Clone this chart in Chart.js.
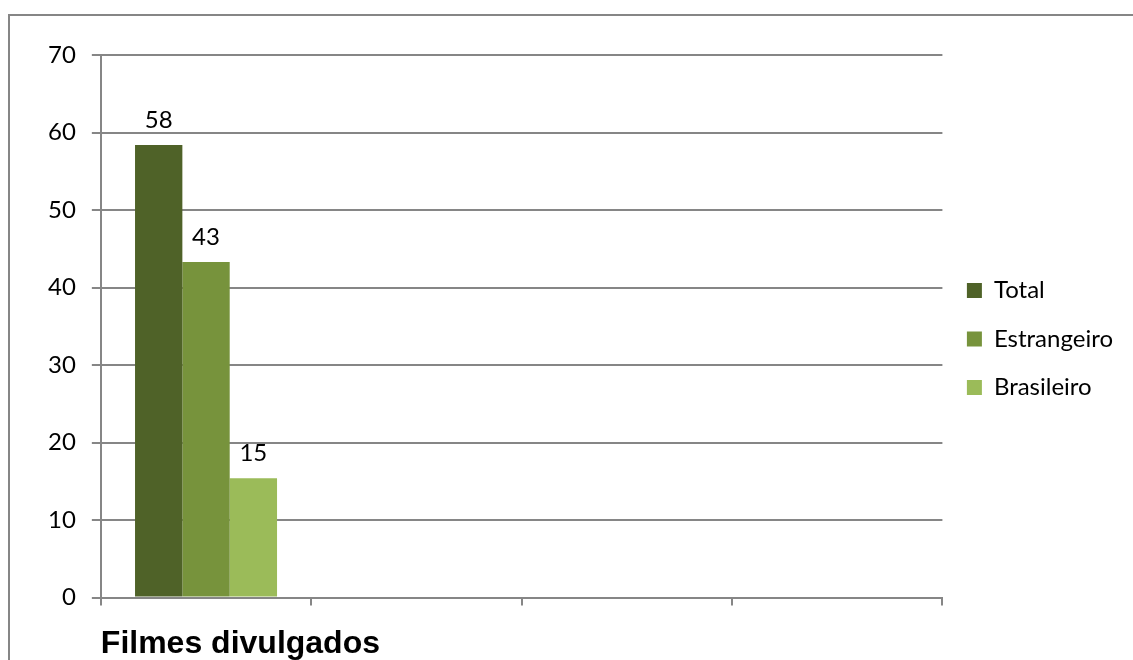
<!DOCTYPE html>
<html>
<head>
<meta charset="utf-8">
<script src="https://cdn.jsdelivr.net/npm/chart.js@4/dist/chart.umd.min.js"></script>
<style>
  html, body { margin: 0; padding: 0; background: #fff; overflow: hidden; }
  #frame {
    position: absolute; left: 8px; top: 14px;
    width: 1140px; height: 680px;
    border: 2px solid #868686;
  }
  #wrap { position: absolute; left: 0; top: 0; width: 1113px; height: 647px; }
</style>
</head>
<body>
<div id="frame"><div id="wrap"><canvas id="chart"></canvas></div></div>
<script>
// values
const categories = ["", "", "", ""];
const seriesNames = ["Total", "Estrangeiro", "Brasileiro"];
const totalValues = [58.4, null, null, null];
const estrangeiroValues = [43.3, null, null, null];
const brasileiroValues = [15.4, null, null, null];
const seriesColors = ["#4F6228", "#77933C", "#9BBB59"];
const yMin = 0, yMax = 70, yStep = 10;
const axisTitle = "Filmes divulgados";

const gray = "#868686";
const font = "Lato, 'Open Sans', sans-serif";

// number above each bar
const valueLabels = {
  id: "valueLabels",
  afterDatasetsDraw(chart) {
    const ctx = chart.ctx;
    ctx.save();
    ctx.font = "24px " + font;
    ctx.fillStyle = "#000";
    ctx.textAlign = "center";
    ctx.textBaseline = "bottom";
    chart.data.datasets.forEach((ds, i) => {
      chart.getDatasetMeta(i).data.forEach((bar, j) => {
        const v = ds.data[j];
        if (v == null) return;
        ctx.fillText(Math.round(v), bar.x, bar.y - 13);
      });
    });
    ctx.restore();
  }
};

const values = [totalValues, estrangeiroValues, brasileiroValues];

new Chart(document.getElementById("chart"), {
  type: "bar",
  data: {
    labels: categories,
    datasets: seriesNames.map((name, i) => ({
      label: name,
      data: values[i],
      backgroundColor: seriesColors[i],
      categoryPercentage: 0.675,
      barPercentage: 1,
    })),
  },
  options: {
    responsive: true,
    maintainAspectRatio: false,
    animation: false,
    layout: { padding: { left: 22, top: 39, right: 0, bottom: 0 } },
    plugins: {
      legend: {
        position: "right",
        align: "start",
        title: { display: true, text: "", font: { size: 10 }, padding: { top: 187, bottom: 0 } },
        labels: {
          font: { family: font, size: 24 },
          color: "#000",
          boxWidth: 15,
          boxHeight: 15,
          padding: 24.5,
        },
      },
      tooltip: { enabled: false },
    },
    scales: {
      x: {
        grid: { display: true, drawOnChartArea: false, drawTicks: true, tickLength: 8, color: gray, lineWidth: 2, offset: true },
        border: { color: gray, width: 2 },
        ticks: { display: false },
        title: {
          display: true,
          text: axisTitle,
          align: "start",
          color: "#000",
          font: { family: "'Liberation Sans', Arial, sans-serif", size: 32, weight: "bold" },
          padding: { top: 19, bottom: 0 },
        },
      },
      y: {
        min: yMin,
        max: yMax,
        ticks: { stepSize: yStep, color: "#000", font: { family: font, size: 24 }, padding: 16 },
        grid: { color: gray, lineWidth: 2, tickLength: 9 },
        border: { color: gray, width: 2 },
      },
    },
  },
  plugins: [valueLabels],
});
</script>
</body>
</html>
